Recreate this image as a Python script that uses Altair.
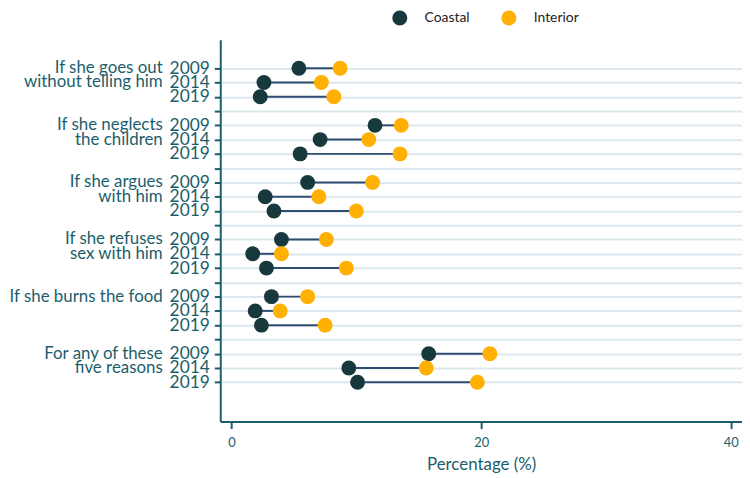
import altair as alt
import pandas as pd

# ---- data ----
reason_lines = [
    ["If she goes out", "without telling him"],
    ["If she neglects", "the children"],
    ["If she argues", "with him"],
    ["If she refuses", "sex with him"],
    ["If she burns the food"],
    ["For any of these", "five reasons"],
]
years = ["2009", "2014", "2019"]
coastal = [5.4, 2.6, 2.3, 11.5, 7.1, 5.5, 6.1, 2.7, 3.4, 4.0, 1.7, 2.8,
           3.2, 1.9, 2.4, 15.8, 9.4, 10.1]
interior = [8.7, 7.2, 8.2, 13.6, 11.0, 13.5, 11.3, 7.0, 10.0, 7.6, 4.0, 9.2,
            6.1, 3.9, 7.5, 20.7, 15.6, 19.7]
regions = ["Coastal", "Interior"]
region_colors = ["#17393d", "#ffb000"]

TEAL = "#1b5e6b"
FONT = "Lato"

# ---- build tables ----
rows, pts, labs = [], [], []
for g, lines in enumerate(reason_lines):
    for j, yr in enumerate(years):
        i = g * 3 + j
        slot = 2 + 4 * g + j
        rows.append({"slot": slot, "c": coastal[i], "i": interior[i]})
        pts.append({"slot": slot, "value": coastal[i], "region": regions[0]})
        pts.append({"slot": slot, "value": interior[i], "region": regions[1]})
    for k, ln in enumerate(lines):
        labs.append({"slot": 2 + 4 * g + k, "text": ln})

df_rows = pd.DataFrame(rows)
df_pts = pd.DataFrame(pts)
df_labs = pd.DataFrame(labs)

yscale = alt.Scale(domain=[0, 26.75], reverse=True, nice=False, zero=False)
xscale = alt.Scale(domain=[-0.9, 40.9], nice=False, zero=False)

yaxis = alt.Axis(
    values=list(range(2, 25)), tickCount=40,
    labelExpr="['2009','2014','2019',''][(datum.value-2)%4]",
    labelOverlap=False, labelBound=False, labelFlush=False,
    title=None, grid=True, gridColor="#dde7ee", gridWidth=2,
    domainColor=TEAL, domainWidth=2, tickColor=TEAL, tickWidth=2, tickSize=6,
    labelColor=TEAL, labelFont=FONT, labelFontSize=17.5, labelPadding=5,
)
xaxis = alt.Axis(
    values=[0, 20, 40], title="Percentage (%)", grid=False,
    labelOverlap=False, labelFlush=False,
    domainColor=TEAL, domainWidth=2, tickColor=TEAL, tickWidth=2, tickSize=7,
    labelColor=TEAL, labelFont=FONT, labelFontSize=13, labelPadding=8,
    titleColor=TEAL, titleFont=FONT, titleFontSize=17, titleFontWeight="normal",
    titlePadding=7,
)

rules = alt.Chart(df_rows).mark_rule(color="#2f4d70", strokeWidth=2).encode(
    x=alt.X("c:Q", scale=xscale, axis=xaxis),
    x2="i:Q",
    y=alt.Y("slot:Q", scale=yscale, axis=yaxis),
)

points = alt.Chart(df_pts).mark_circle(size=225, opacity=1).encode(
    x=alt.X("value:Q", scale=xscale),
    y=alt.Y("slot:Q", scale=yscale),
    color=alt.Color(
        "region:N",
        scale=alt.Scale(domain=regions, range=region_colors),
        legend=alt.Legend(
            title=None, orient="none", direction="horizontal",
            legendX=173, legendY=-30,
            symbolSize=230, symbolType="circle", symbolStrokeWidth=0,
            labelFont=FONT, labelFontSize=14, labelColor="#222222",
            labelOffset=17, columnPadding=31,
        ),
    ),
)

labels = alt.Chart(df_labs).mark_text(
    align="right", baseline="middle", font=FONT, fontSize=17, color=TEAL
).encode(
    x=alt.value(-58),
    y=alt.Y("slot:Q", scale=yscale),
    text="text:N",
)

chart = alt.layer(rules, points, labels).properties(
    width=526, height=385,
    autosize=alt.AutoSizeParams(type="none"),
    padding={"left": 214, "top": 30, "right": 0, "bottom": 55},
).configure_view(strokeWidth=0)

chart.save("out.html", embed_options={"renderer": "svg", "actions": False})
